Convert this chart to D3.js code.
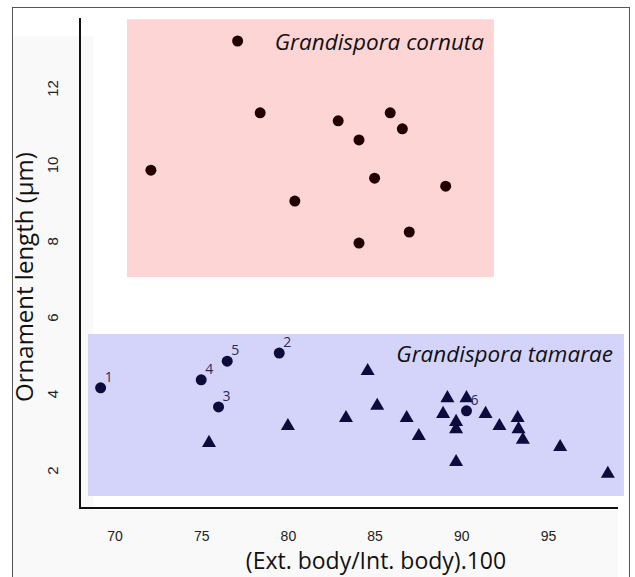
<!DOCTYPE html>
<html lang="en">
  <head>
    <meta charset="utf-8">
    <style type="text/css">
      body { margin: 0; background: white; }
      text { font-family: "Liberation Sans", Arial, sans-serif; }
      .title { font-family: "Open Sans", "Noto Sans", sans-serif; }
    </style>
  </head>
  <body>
    <svg id="chart"></svg>
    <script src="https://cdn.jsdelivr.net/npm/d3@7"></script>
    <script type="text/javascript">
// Grandispora cornuta (filled dots)
var cornutaX = [77.1, 78.4, 72.1, 80.4, 82.9, 84.1, 85.9, 86.6, 85.0, 89.1, 84.1, 87.0];
var cornutaY = [13.23, 11.35, 9.85, 9.04, 11.14, 10.64, 11.35, 10.93, 9.64, 9.43, 7.94, 8.23];

// Grandispora tamarae, numbered specimens (dots)
var numberedX = [69.2, 79.5, 76.0, 75.0, 76.5, 90.3];
var numberedY = [4.15, 5.06, 3.65, 4.36, 4.85, 3.55];
var numberedLabels = ["1", "2", "3", "4", "5", "6"];

// Grandispora tamarae (triangles)
var tamaraeX = [75.45, 80.0, 83.35, 84.6, 85.15, 86.85, 87.55, 88.95, 89.2, 89.7, 89.7, 89.7,
                90.3, 91.4, 92.2, 93.25, 93.3, 93.55, 95.7, 98.45];
var tamaraeY = [2.71, 3.15, 3.36, 4.59, 3.68, 3.36, 2.89, 3.47, 3.88, 3.26, 3.07, 2.21,
                3.88, 3.47, 3.15, 3.36, 3.07, 2.79, 2.60, 1.90];

var xTicks = [70, 75, 80, 85, 90, 95];
var yTicks = [2, 4, 6, 8, 10, 12];

// shaded group areas [x0, x1, y0, y1] in data units
var cornutaArea = [70.72, 91.88, 7.05, 13.8];
var tamaraeArea = [68.47, 99.38, 1.32, 5.56];

var width = 635, height = 577;

var svg = d3.select("#chart")
  .attr("width", width)
  .attr("height", height);

var x = d3.scaleLinear().domain([70, 95]).range([114.5, 548]);
var y = d3.scaleLinear().domain([2, 12]).range([470, 88]);

// faint grey page background bits
svg.append("rect").attr("x", 12).attr("y", 36).attr("width", 81).attr("height", 541).attr("fill", "#f9f9f9");
svg.append("rect").attr("x", 12).attr("y", 510).attr("width", 606).attr("height", 67).attr("fill", "#f9f9f9");

// outer frame
svg.append("rect")
  .attr("x", 12.5).attr("y", 7.5)
  .attr("width", 617).attr("height", 580)
  .attr("fill", "none")
  .attr("stroke", "#555")
  .attr("stroke-width", 1);

// group areas
svg.append("rect")
  .attr("x", x(cornutaArea[0])).attr("y", y(cornutaArea[3]))
  .attr("width", x(cornutaArea[1]) - x(cornutaArea[0]))
  .attr("height", y(cornutaArea[2]) - y(cornutaArea[3]))
  .attr("fill", "#fdd5d5");

svg.append("rect")
  .attr("x", x(tamaraeArea[0])).attr("y", y(tamaraeArea[3]))
  .attr("width", x(tamaraeArea[1]) - x(tamaraeArea[0]))
  .attr("height", y(tamaraeArea[2]) - y(tamaraeArea[3]))
  .attr("fill", "#d4d4fb");

// axes lines (R style, L shaped)
svg.append("line").attr("x1", 80).attr("x2", 80).attr("y1", 18).attr("y2", 508)
  .attr("stroke", "#111").attr("stroke-width", 2);
svg.append("line").attr("x1", 79).attr("x2", 618).attr("y1", 508).attr("y2", 508)
  .attr("stroke", "#111").attr("stroke-width", 2);

// tick labels
var xAxis = d3.axisBottom(x).tickValues(xTicks).tickSize(0).tickPadding(0);
var gx = svg.append("g").attr("transform", "translate(0,531)").call(xAxis);
gx.select(".domain").remove();
gx.selectAll("text").attr("font-size", 14).attr("fill", "#222")
  .attr("font-family", "Liberation Sans, Arial, sans-serif");

var yAxis = d3.axisLeft(y).tickValues(yTicks).tickSize(0).tickPadding(0);
var gy = svg.append("g").attr("transform", "translate(52,0)").call(yAxis);
gy.select(".domain").remove();
gy.selectAll("text")
  .attr("x", 0).attr("dy", 0)
  .attr("text-anchor", "middle")
  .attr("dominant-baseline", "central")
  .attr("transform", "rotate(-90)")
  .attr("font-size", 15).attr("fill", "#222")
  .attr("font-family", "Liberation Sans, Arial, sans-serif");

// axis titles
svg.append("text").attr("class", "title")
  .attr("x", 376).attr("y", 569)
  .attr("text-anchor", "middle")
  .attr("font-size", 23)
  .attr("fill", "#111")
  .text("(Ext. body/Int. body).100");

svg.append("text").attr("class", "title")
  .attr("transform", "translate(33,277) rotate(-90)")
  .attr("text-anchor", "middle")
  .attr("font-size", 24)
  .attr("fill", "#111")
  .text("Ornament length (\u00b5m)");

// species names
svg.append("text").attr("class", "title")
  .attr("x", 484).attr("y", 50)
  .attr("text-anchor", "end")
  .attr("font-size", 22.5).attr("font-style", "italic")
  .attr("fill", "#111")
  .text("Grandispora cornuta");

svg.append("text").attr("class", "title")
  .attr("x", 613).attr("y", 362)
  .attr("text-anchor", "end")
  .attr("font-size", 22.5).attr("font-style", "italic")
  .attr("fill", "#111")
  .text("Grandispora tamarae");

// cornuta dots
svg.append("g").selectAll("circle").data(d3.range(cornutaX.length)).enter()
  .append("circle")
  .attr("cx", function(i) { return x(cornutaX[i]); })
  .attr("cy", function(i) { return y(cornutaY[i]); })
  .attr("r", 5.5)
  .attr("fill", "#230000");

// tamarae triangles
var tri = d3.symbol().type(d3.symbolTriangle).size(85);
svg.append("g").selectAll("path").data(d3.range(tamaraeX.length)).enter()
  .append("path")
  .attr("d", tri)
  .attr("transform", function(i) { return "translate(" + x(tamaraeX[i]) + "," + y(tamaraeY[i]) + ")"; })
  .attr("fill", "#0b0b3c");

// numbered tamarae dots
var num = svg.append("g").selectAll("g").data(d3.range(numberedX.length)).enter()
  .append("g")
  .attr("transform", function(i) { return "translate(" + x(numberedX[i]) + "," + y(numberedY[i]) + ")"; });

num.append("circle").attr("r", 5.5).attr("fill", "#0b0b3c");
num.append("text")
  .attr("class", "title")
  .attr("x", 4).attr("y", -6)
  .attr("font-size", 14)
  .attr("fill", "#2a2a5a")
  .text(function(i) { return numberedLabels[i]; });
    </script>
  </body>
</html>
